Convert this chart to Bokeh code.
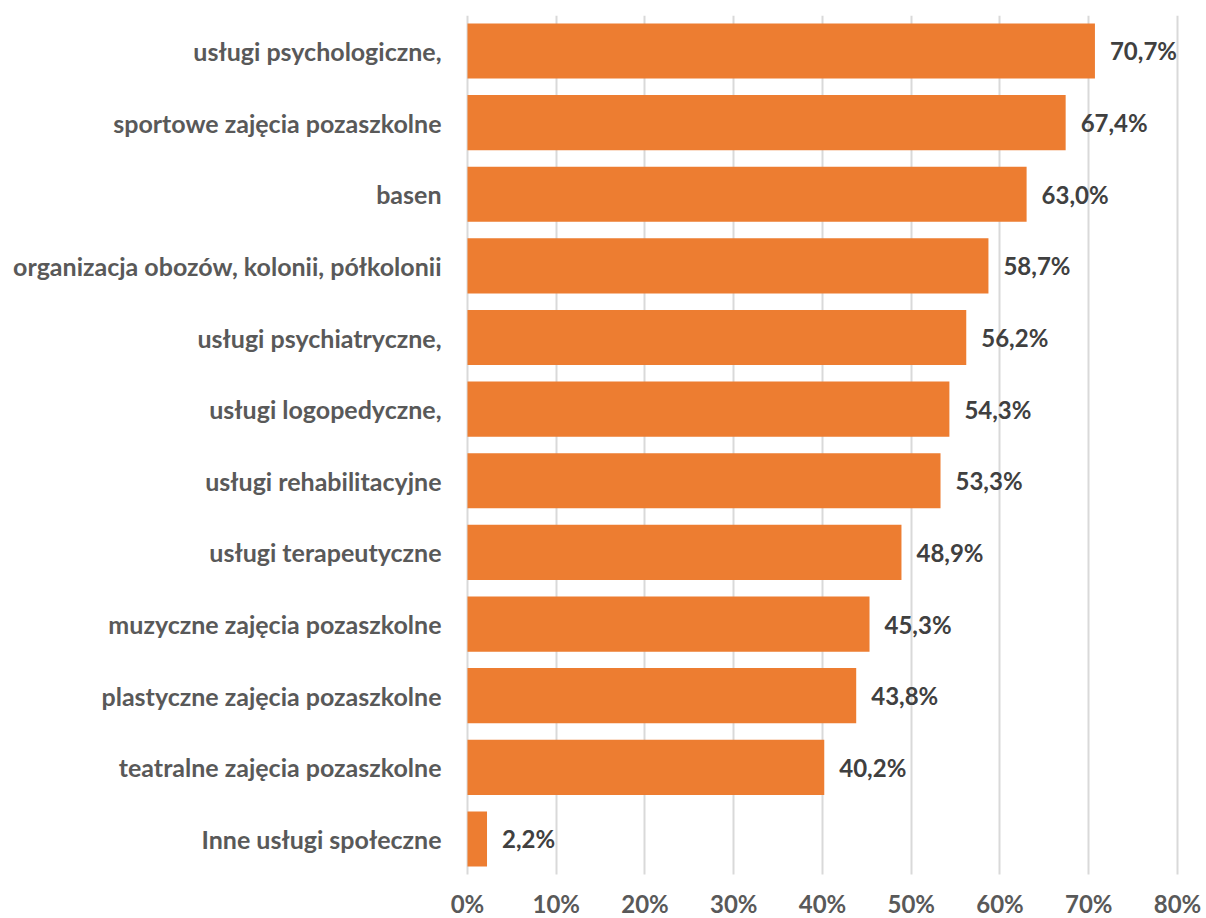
from bokeh.plotting import figure
from bokeh.models import ColumnDataSource, Range1d, FixedTicker
from bokeh.embed import file_html
from bokeh.resources import INLINE
from bokeh.core.properties import value

categories = [
    "usługi psychologiczne,",
    "sportowe zajęcia pozaszkolne",
    "basen",
    "organizacja obozów, kolonii, półkolonii",
    "usługi psychiatryczne,",
    "usługi logopedyczne,",
    "usługi rehabilitacyjne",
    "usługi terapeutyczne",
    "muzyczne zajęcia pozaszkolne",
    "plastyczne zajęcia pozaszkolne",
    "teatralne zajęcia pozaszkolne",
    "Inne usługi społeczne",
]
values = [70.7, 67.4, 63.0, 58.7, 56.2, 54.3, 53.3, 48.9, 45.3, 43.8, 40.2, 2.2]
tick_values = [0, 10, 20, 30, 40, 50, 60, 70, 80]
tick_labels = ["0%", "10%", "20%", "30%", "40%", "50%", "60%", "70%", "80%"]

n = len(categories)
ypos = [n - 1 - i for i in range(n)]  # first category at top
labels = [("%.1f%%" % v).replace(".", ",") for v in values]
src = ColumnDataSource(dict(y=ypos, val=values, lab=labels, cat=categories,
                            zero=[0] * n))

FONT = "Lato"
W, H = 1206, 918
p = figure(
    width=W, height=H,
    x_range=Range1d(-52.62, 83.27),
    y_range=Range1d(-1.11, n - 0.505),
    output_backend="svg", toolbar_location=None,
    min_border=0, min_border_top=15,
)
p.outline_line_color = None
p.background_fill_color = "white"

p.hbar(y="y", right="val", left=0, height=0.77, source=src,
       fill_color="#ED7D31", line_color=None)

# value labels
p.text(x="val", y="y", text="lab", source=src, x_offset=15,
       text_align="left", text_baseline="middle",
       text_font=value(FONT), text_font_style="bold", text_font_size="24px",
       text_color="#404040")

# category labels
p.text(x="zero", y="y", text="cat", source=src, x_offset=-26,
       text_align="right", text_baseline="middle",
       text_font=value(FONT), text_font_style="bold", text_font_size="25px",
       text_color="#595959")

# x tick labels below the bars
tsrc = ColumnDataSource(dict(x=tick_values, lab=tick_labels, y=[-0.5] * len(tick_values)))
p.text(x="x", y="y", text="lab", source=tsrc, y_offset=29,
       text_align="center", text_baseline="middle",
       text_font=value(FONT), text_font_style="bold", text_font_size="24px",
       text_color="#595959")

p.xaxis.ticker = FixedTicker(ticks=tick_values)
p.xaxis.visible = False
p.yaxis.visible = False

p.xgrid.grid_line_color = "#D9D9D9"
p.xgrid.grid_line_width = 2
p.xgrid.cross_bounds = (-0.5, n - 0.5)
p.ygrid.grid_line_color = None

open("out.html", "w").write(file_html(p, INLINE))
